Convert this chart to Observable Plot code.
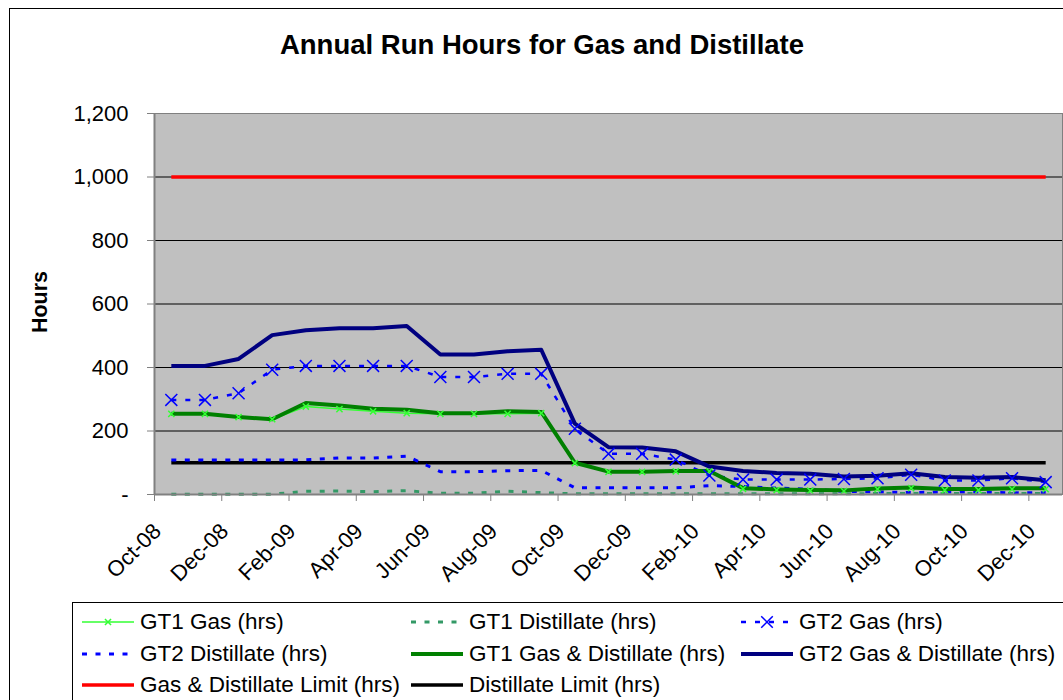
<!DOCTYPE html>
<html><head><meta charset="utf-8">
<script src="https://cdn.jsdelivr.net/npm/d3@7"></script>
<script src="https://cdn.jsdelivr.net/npm/@observablehq/plot@0.6"></script>
<style>
body{margin:0;background:#fff;font-family:"Liberation Sans",Arial,sans-serif;}
#wrap{position:relative;width:1063px;height:700px;overflow:hidden;background:#fff;}
#frame{position:absolute;left:9px;top:8px;width:1100px;height:720px;border:1px solid #000;}
#title{position:absolute;left:0;width:1084px;top:29px;text-align:center;font-weight:bold;font-size:27.5px;line-height:32px;}
#ylabel{position:absolute;left:40px;top:302px;transform:translate(-50%,-50%) rotate(-90deg);font-weight:bold;font-size:21.5px;}
#chart{position:absolute;left:0;top:0;}
#legend{position:absolute;left:72px;top:602px;width:1100px;height:120px;border:1px solid #000;background:#fff;}
.li{position:absolute;height:30px;display:flex;align-items:center;font-size:22.5px;white-space:nowrap;}
.li svg{margin-right:5px;}
</style>
</head><body>
<div id="wrap">
  <div id="frame"></div>
  <div id="chart"></div>
  <div id="title">Annual Run Hours for Gas and Distillate</div>
  <div id="ylabel">Hours</div>
  <div id="legend"></div>
</div>
<script>
// ---- data ----
const months = ["Oct-08","Nov-08","Dec-08","Jan-09","Feb-09","Mar-09","Apr-09","May-09","Jun-09","Jul-09","Aug-09","Sep-09","Oct-09","Nov-09","Dec-09","Jan-10","Feb-10","Mar-10","Apr-10","May-10","Jun-10","Jul-10","Aug-10","Sep-10","Oct-10","Nov-10","Dec-10"];
const gt1Gas       = [254,254,244,237,277,269,262,256,254,254,254,256, 99, 71, 71, 73, 73, 18, 14, 12, 11, 17, 20, 14, 14, 17, 17];
const gt1Distillate= [  1,  1,  1,  1, 10, 11,  9, 12,  4,  4, 10,  6,  2,  2,  2,  2,  2,  2,  2,  2,  2,  3,  3,  3,  3,  3,  3];
const gt2Gas       = [298,298,319,393,405,405,405,405,370,370,380,380,207,128,128,110, 60, 47, 47, 47, 49, 51, 62, 44, 44, 51, 39];
const gt2Distillate= [109,109,109,109,109,115,115,121, 72, 72, 75, 76, 21, 21, 21, 21, 28, 25, 20, 17, 10,  8,  6,  8,  8,  5,  6];
const gt1Total     = [254,254,244,237,288,280,270,267,256,256,262,260,100, 72, 72, 74, 74, 20, 16, 14, 13, 19, 22, 17, 17, 20, 20];
const gt2Total     = [405,405,427,502,517,524,524,531,441,441,451,456,223,149,148,136, 88, 74, 68, 65, 57, 59, 67, 55, 53, 55, 45];
const totalLimit   = months.map(() => 1000);
const distLimit    = months.map(() => 100);
const yTicks = [0,200,400,600,800,1000,1200];

// ---- series styles ----
const series = [
  {name:"GT1 Gas (hrs)", values:gt1Gas, stroke:"#33FF33", width:1.5, dash:null, marker:{size:2.9, width:1.5}},
  {name:"GT1 Distillate (hrs)", values:gt1Distillate, stroke:"#339966", width:3, dash:"5,8.5"},
  {name:"GT2 Gas (hrs)", values:gt2Gas, stroke:"#0000FF", width:2.5, dash:"5,9", marker:{size:5.5, width:1.5}},
  {name:"GT2 Distillate (hrs)", values:gt2Distillate, stroke:"#0000FF", width:3, dash:"5,8.5"},
  {name:"GT1 Gas & Distillate (hrs)", values:gt1Total, stroke:"#008000", width:4, dash:null},
  {name:"GT2 Gas & Distillate (hrs)", values:gt2Total, stroke:"#000080", width:4, dash:null},
  {name:"Gas & Distillate Limit (hrs)", values:totalLimit, stroke:"#FF0000", width:3.5, dash:null},
  {name:"Distillate Limit (hrs)", values:distLimit, stroke:"#000000", width:3.5, dash:null}
];
const rows = s => s.values.map((v, i) => ({i, v}));
const labelIdx = months.map((m, i) => i).filter(i => i % 2 === 0);
const boundaries = labelIdx.map(i => i - 0.5);

const drawOrder = [6, 7, 0, 1, 2, 3, 4, 5];
const marks = [
  Plot.frame({fill:"#C0C0C0", stroke:null}),
  Plot.ruleY(yTicks.filter(t => t > 0 && t < d3.max(yTicks)), {stroke:"#000", strokeWidth:1}),
  Plot.frame({stroke:"#808080", strokeWidth:1}),
  ...drawOrder.map(k => {
    const s = series[k];
    return Plot.line(rows(s), {x:"i", y:"v", stroke:s.stroke, strokeWidth:s.width, strokeDasharray:s.dash, strokeLinejoin:"round", strokeLinecap:"butt"});
  }),
  ...series.filter(s => s.marker).map(s =>
    Plot.dot(rows(s), {x:"i", y:"v", symbol:"times", r:s.marker.size, stroke:s.stroke, strokeWidth:s.marker.width})),
  Plot.ruleY([0], {stroke:"#808080", strokeWidth:2}),
  Plot.ruleX([d3.min(boundaries)], {stroke:"#808080", strokeWidth:2}),
  Plot.axisY({ticks:yTicks, tickSize:7, tickPadding:19, stroke:"#808080", label:null, fontSize:22,
    tickFormat: d => d === 0 ? "-" : d3.format(",")(d)}),
  Plot.axisX({ticks:labelIdx, tickSize:0, tickPadding:33, dx:-14, tickRotate:-45, label:null, fontSize:22,
    tickFormat: i => months[i]}),
  Plot.axisX({ticks:boundaries, tickSize:7, tickFormat: () => "", stroke:"#808080", label:null})
];

const chart = Plot.plot({
  width:1063, height:600,
  marginLeft:154, marginRight:1, marginTop:113, marginBottom:106,
  style:{fontSize:"22px", fontFamily:"'Liberation Sans', Arial, sans-serif", color:"#000", background:"transparent"},
  x:{type:"linear", domain:[-0.5, months.length - 0.5], axis:null},
  y:{type:"linear", domain:[0, d3.max(yTicks)], axis:null},
  marks
});
document.getElementById("chart").appendChild(chart);

// ---- legend ----
const colX = [8, 337, 667];
const rowY = [4, 36, 67];
const legend = d3.select("#legend");
series.forEach((s, j) => {
  const item = legend.append("div").attr("class", "li")
    .style("left", colX[j % 3] + "px").style("top", rowY[Math.floor(j / 3)] + "px");
  const svg = item.append("svg").attr("width", 54).attr("height", 30);
  svg.append("line").attr("x1", 1).attr("x2", 53).attr("y1", 15).attr("y2", 15)
    .attr("stroke", s.stroke).attr("stroke-width", s.width)
    .attr("stroke-dasharray", s.dash);
  if (s.marker) {
    const r = s.marker.size * 1.05;
    svg.append("path").attr("d", `M${27-r},${15-r}L${27+r},${15+r}M${27-r},${15+r}L${27+r},${15-r}`)
      .attr("stroke", s.stroke).attr("stroke-width", s.marker.width).attr("fill", "none");
  }
  item.append("span").text(s.name);
});
</script>
</body></html>
